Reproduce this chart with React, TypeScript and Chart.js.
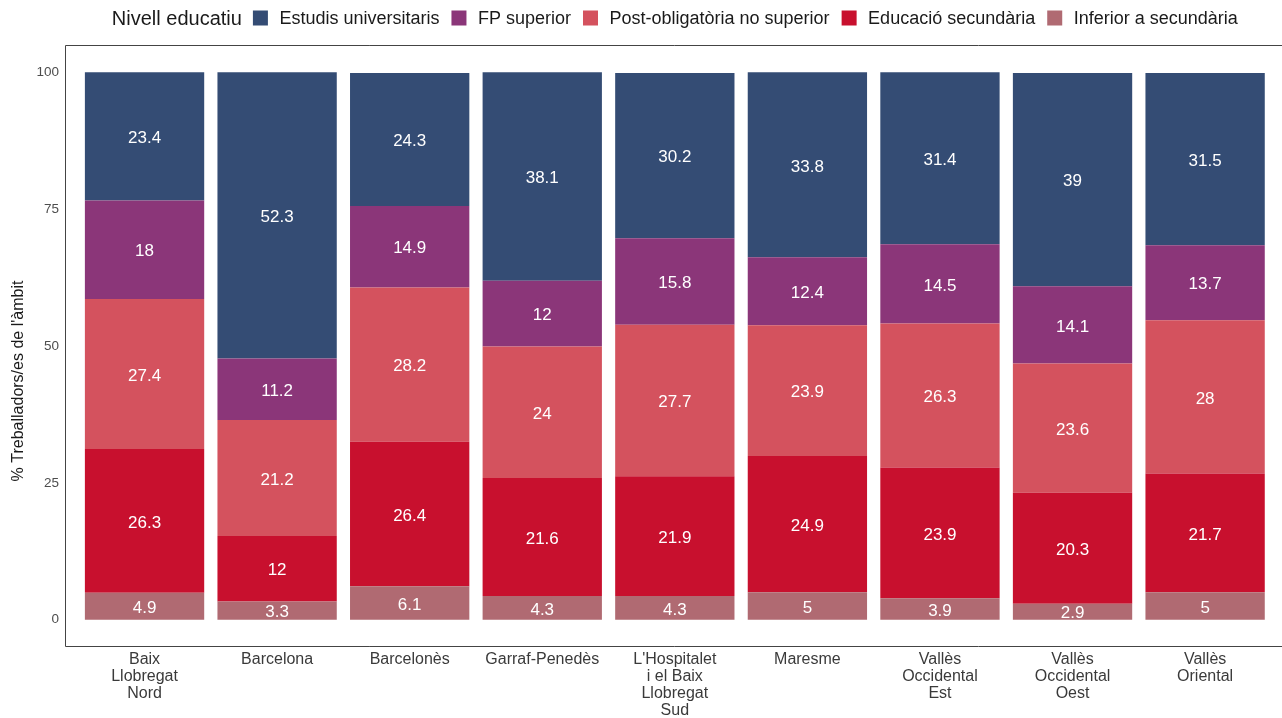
import React, { useEffect, useRef } from "react";
import { Chart, registerables } from "chart.js";

Chart.register(...registerables);

const categories: string[][] = [
  ["Baix", "Llobregat", "Nord"],
  ["Barcelona"],
  ["Barcelonès"],
  ["Garraf-Penedès"],
  ["L'Hospitalet", "i el Baix", "Llobregat", "Sud"],
  ["Maresme"],
  ["Vallès", "Occidental", "Est"],
  ["Vallès", "Occidental", "Oest"],
  ["Vallès", "Oriental"],
];

const inferior = [4.9, 3.3, 6.1, 4.3, 4.3, 5, 3.9, 2.9, 5];
const secundaria = [26.3, 12, 26.4, 21.6, 21.9, 24.9, 23.9, 20.3, 21.7];
const postObligatoria = [27.4, 21.2, 28.2, 24, 27.7, 23.9, 26.3, 23.6, 28];
const fpSuperior = [18, 11.2, 14.9, 12, 15.8, 12.4, 14.5, 14.1, 13.7];
const universitaris = [23.4, 52.3, 24.3, 38.1, 30.2, 33.8, 31.4, 39, 31.5];

const yTicks = [0, 25, 50, 75, 100];

const legendTitle = "Nivell educatiu";
const yTitle = "% Treballadors/es de l'àmbit";

const FONT = "'Liberation Sans', Arial, sans-serif";

// bottom-to-top stacking order
const series = [
  { label: "Inferior a secundària", data: inferior, color: "#b06a72" },
  { label: "Educació secundària", data: secundaria, color: "#c8102e" },
  { label: "Post-obligatòria no superior", data: postObligatoria, color: "#d4525e" },
  { label: "FP superior", data: fpSuperior, color: "#8b3679" },
  { label: "Estudis universitaris", data: universitaris, color: "#344c74" },
];

const legendOrder = [4, 3, 2, 1, 0];

const panelPlugin = {
  id: "panelDecor",
  afterDatasetsDraw(chart: any) {
    const ctx = chart.ctx;
    ctx.save();
    ctx.font = `17px ${FONT}`;
    ctx.fillStyle = "#ffffff";
    ctx.textAlign = "center";
    ctx.textBaseline = "middle";
    chart.data.datasets.forEach((ds: any, di: number) => {
      const meta = chart.getDatasetMeta(di);
      meta.data.forEach((el: any, i: number) => {
        const p = el.getProps(["x", "y", "base"], true);
        const v = ds.data[i].y;
        ctx.fillText(String(v), p.x, (p.y + p.base) / 2 + 2);
      });
    });
    ctx.restore();
  },
  afterDraw(chart: any) {
    const ctx = chart.ctx;
    const ca = chart.chartArea;
    const xs = chart.scales.x;
    const rightEdge = xs.getPixelForValue(9.6);
    ctx.save();
    ctx.strokeStyle = "#444444";
    ctx.lineWidth = 1;
    ctx.beginPath();
    ctx.moveTo(rightEdge, ca.top + 0.5);
    ctx.lineTo(ca.left + 0.5, ca.top + 0.5);
    ctx.lineTo(ca.left + 0.5, ca.bottom - 0.5);
    ctx.lineTo(rightEdge, ca.bottom - 0.5);
    ctx.stroke();

    ctx.save();
    ctx.translate(19, 381);
    ctx.rotate(-Math.PI / 2);
    ctx.font = `16px ${FONT}`;
    ctx.fillStyle = "#1a1a1a";
    ctx.textAlign = "center";
    ctx.textBaseline = "middle";
    ctx.fillText(yTitle, 0, 0);
    ctx.restore();

    const box = 15;
    const boxGap = 11.5;
    const itemGap = 12;
    const titleGap = 11;
    const cy = 18;
    ctx.textBaseline = "middle";
    ctx.textAlign = "left";
    ctx.font = `20px ${FONT}`;
    const titleW = ctx.measureText(legendTitle).width;
    ctx.font = `18px ${FONT}`;
    const widths = legendOrder.map((k) => ctx.measureText(series[k].label).width);
    let total = titleW + titleGap;
    widths.forEach((w, i) => {
      total += box + boxGap + w + (i < widths.length - 1 ? itemGap : 0);
    });
    const center = (ca.left + rightEdge) / 2;
    let x = center - total / 2;
    ctx.font = `20px ${FONT}`;
    ctx.fillStyle = "#1a1a1a";
    ctx.fillText(legendTitle, x, cy + 1);
    x += titleW + titleGap;
    ctx.font = `18px ${FONT}`;
    legendOrder.forEach((k, i) => {
      ctx.fillStyle = series[k].color;
      ctx.fillRect(x, cy - box / 2, box, box);
      x += box + boxGap;
      ctx.fillStyle = "#1a1a1a";
      ctx.fillText(series[k].label, x, cy + 1);
      x += widths[i] + itemGap;
    });
    ctx.restore();
  },
};

export default function App() {
  const ref = useRef<HTMLCanvasElement | null>(null);
  useEffect(() => {
    if (!ref.current) return;
    const chart = new Chart(ref.current, {
      type: "bar",
      data: {
        datasets: series.map((s) => ({
          label: s.label,
          data: s.data.map((v, i) => ({ x: i + 1, y: v })),
          backgroundColor: s.color,
          borderWidth: 0,
          categoryPercentage: 1,
          barPercentage: 0.9,
        })),
      },
      options: {
        animation: false,
        responsive: false,
        layout: { padding: { top: 45, left: 0, right: 0, bottom: 0 } },
        plugins: {
          legend: { display: false },
          tooltip: { enabled: false },
          title: { display: false },
        },
        scales: {
          x: {
            type: "linear",
            stacked: true,
            offset: false,
            min: 0.4,
            max: 9.58,
            grid: { display: false, drawTicks: false, offset: false },
            border: { display: false },
            afterBuildTicks: (scale: any) => {
              scale.ticks = categories.map((_, i) => ({ value: i + 1 }));
            },
            afterFit: (scale: any) => {
              scale.height = 71;
            },
            ticks: {
              autoSkip: false,
              maxRotation: 0,
              padding: 4,
              color: "#3a3a3a",
              font: { family: FONT, size: 16, lineHeight: 1.0625 },
              callback: (v: any) => categories[Math.round(Number(v)) - 1] ?? "",
            },
          },
          y: {
            stacked: true,
            min: -5,
            max: 105,
            grid: { display: false, drawTicks: false },
            border: { display: false },
            afterBuildTicks: (scale: any) => {
              scale.ticks = yTicks.map((v) => ({ value: v }));
            },
            afterFit: (scale: any) => {
              scale.width = 65;
            },
            ticks: {
              padding: 6,
              color: "#4d4d4d",
              font: { family: FONT, size: 13.5 },
            },
          },
        },
      },
      plugins: [panelPlugin],
    } as any);
    return () => chart.destroy();
  }, []);
  return (
    <div style={{ position: "absolute", left: 0, top: 0, width: 1282, height: 718, background: "#fff" }}>
      <canvas ref={ref} width={1282} height={718} style={{ display: "block" }} />
    </div>
  );
}
